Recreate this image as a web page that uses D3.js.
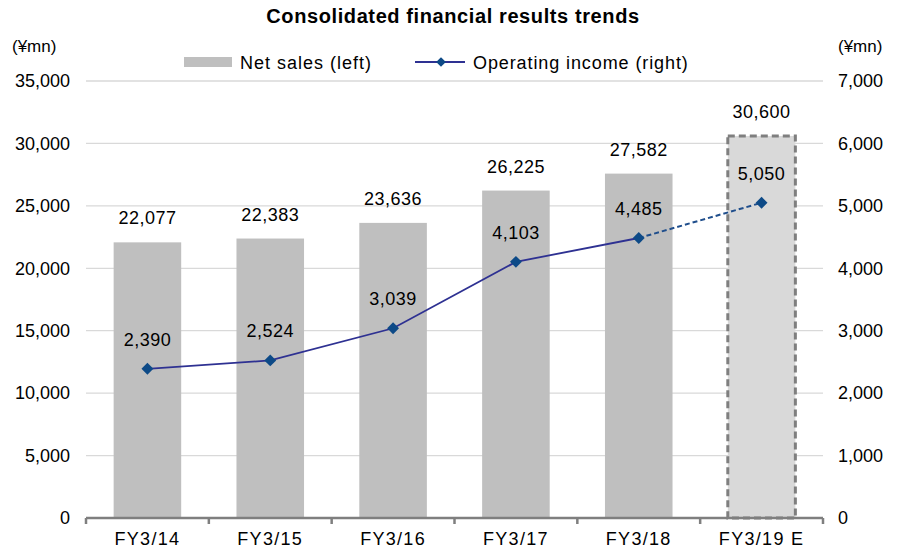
<!DOCTYPE html>
<html><head><meta charset="utf-8">
<script src="https://cdn.jsdelivr.net/npm/d3@7"></script>
<style>body{margin:0;background:#fff}svg{display:block}text{font-family:"Liberation Sans",Arial,sans-serif;fill:#000}</style>
</head><body><svg id="c" width="897" height="555"></svg>
<script>
const categories = ["FY3/14","FY3/15","FY3/16","FY3/17","FY3/18","FY3/19 E"];
const netSales = [22077,22383,23636,26225,27582,30600];
const opIncome = [2390,2524,3039,4103,4485,5050];
const leftTicks = [0,5000,10000,15000,20000,25000,30000,35000];
const rightTicks = [0,1000,2000,3000,4000,5000,6000,7000];

const FONT = '"Liberation Sans",Arial,sans-serif';
const FS = 18;
const svg = d3.select("#c");
const L=86,R=823,T=81,B=518;
const x = d3.scaleBand().domain(categories).range([L,R]).paddingInner(0.45).paddingOuter(0.225);
const yL = d3.scaleLinear().domain([0,35000]).range([B,T]);
const yR = d3.scaleLinear().domain([0,7000]).range([B,T]);
const fmt = d3.format(",");

// gridlines
svg.append("g").selectAll("line").data(leftTicks.slice(1)).join("line")
  .attr("x1",L).attr("x2",R).attr("y1",d=>yL(d)).attr("y2",d=>yL(d))
  .attr("stroke","#d9d9d9").attr("stroke-width",1.3);

// bars
const last = categories.length-1;
svg.append("g").selectAll("rect").data(netSales).join("rect")
  .attr("x",(d,i)=>x(categories[i])).attr("width",x.bandwidth())
  .attr("y",d=>yL(d)).attr("height",d=>B-yL(d))
  .attr("fill",(d,i)=>i===last?"#d9d9d9":"#bfbfbf")
  .attr("stroke",(d,i)=>i===last?"#7f7f7f":"none")
  .attr("stroke-width",3).attr("stroke-dasharray","7,4");

// bar labels
svg.append("g").selectAll("text").data(netSales).join("text")
  .attr("x",(d,i)=>x(categories[i])+x.bandwidth()/2).attr("y",d=>yL(d)-18)
  .attr("text-anchor","middle").attr("font-size",FS).attr("letter-spacing",0.5).text(d=>fmt(d));

// axes
const xAxis = svg.append("g").attr("transform",`translate(0,${B})`)
  .call(d3.axisBottom(x).tickSize(0).tickPadding(14));
xAxis.select(".domain").remove();
xAxis.selectAll("text").attr("font-size",FS).attr("letter-spacing",1.3).style("font-family",FONT);
svg.append("line").attr("x1",L).attr("x2",R).attr("y1",B).attr("y2",B).attr("stroke","#7f7f7f").attr("stroke-width",2.5);
const bounds = categories.map(c=>x(c)-x.step()*x.paddingInner()/2).concat([R]);
svg.append("g").selectAll("line").data(bounds).join("line")
  .attr("x1",d=>d).attr("x2",d=>d).attr("y1",B).attr("y2",B+6).attr("stroke","#7f7f7f").attr("stroke-width",2.5);

const yAxL = svg.append("g").attr("transform",`translate(${L},0)`)
  .call(d3.axisLeft(yL).tickValues(leftTicks).tickFormat(fmt).tickSize(0).tickPadding(16));
yAxL.select(".domain").remove();
yAxL.selectAll("text").attr("font-size",FS).style("font-family",FONT);
const yAxR = svg.append("g").attr("transform",`translate(${R},0)`)
  .call(d3.axisRight(yR).tickValues(rightTicks).tickFormat(fmt).tickSize(0).tickPadding(15));
yAxR.select(".domain").remove();
yAxR.selectAll("text").attr("font-size",FS).style("font-family",FONT);

// line
const pts = opIncome.map((v,i)=>[x(categories[i])+x.bandwidth()/2, yR(v)]);
svg.append("path").attr("d",d3.line()(pts.slice(0,last)))
  .attr("fill","none").attr("stroke","#2e3192").attr("stroke-width",1.8);
svg.append("path").attr("d",d3.line()(pts.slice(last-1)))
  .attr("fill","none").attr("stroke","#1f4e8c").attr("stroke-width",2).attr("stroke-dasharray","5,3");
const diamond = d3.symbol().type(d3.symbolDiamond2).size(90);
svg.append("g").selectAll("path").data(pts).join("path")
  .attr("transform",d=>`translate(${d[0]},${d[1]})`).attr("d",diamond).attr("fill","#0d4a87");
svg.append("g").selectAll("text").data(opIncome).join("text")
  .attr("x",(d,i)=>pts[i][0]).attr("y",(d,i)=>pts[i][1]-23)
  .attr("text-anchor","middle").attr("font-size",FS).attr("letter-spacing",0.5).text(d=>fmt(d));

// title
svg.append("text").attr("x",453).attr("y",23).attr("text-anchor","middle")
  .attr("font-size",20).attr("font-weight","bold").attr("letter-spacing",0.6).text("Consolidated financial results trends");
svg.append("text").attr("x",12).attr("y",52).attr("font-size",17).text("(¥mn)");
svg.append("text").attr("x",838).attr("y",52).attr("font-size",17).text("(¥mn)");

// legend
svg.append("rect").attr("x",184).attr("y",57).attr("width",48).attr("height",10).attr("fill","#bfbfbf");
svg.append("text").attr("x",240).attr("y",69).attr("font-size",FS).attr("letter-spacing",1).text("Net sales (left)");
svg.append("line").attr("x1",415).attr("x2",465).attr("y1",62).attr("y2",62).attr("stroke","#2e3192").attr("stroke-width",1.8);
svg.append("path").attr("transform","translate(441,62)").attr("d",d3.symbol().type(d3.symbolDiamond2).size(60)).attr("fill","#0d4a87");
svg.append("text").attr("x",473).attr("y",69).attr("font-size",FS).attr("letter-spacing",0.9).text("Operating income (right)");
</script></body></html>
